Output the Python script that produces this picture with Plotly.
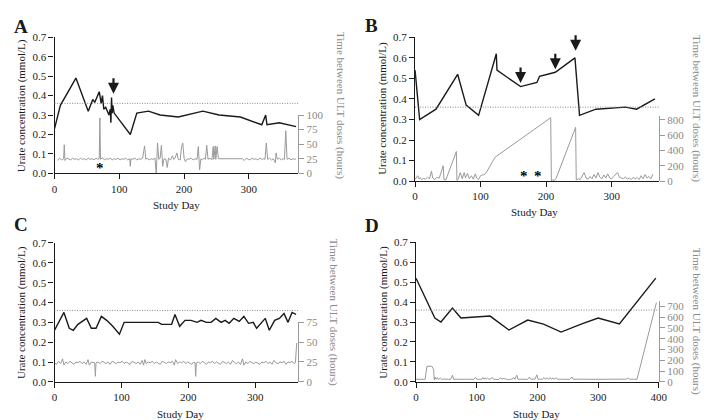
import plotly.graph_objects as go

W, H = 709, 420

# ---------------- DATA ----------------
# Panel A
a_urate_day = [0, 9, 33, 52, 59, 62, 69, 72, 74, 76, 79, 84, 86, 87, 88, 89, 90, 92, 117, 127, 145, 163, 191, 229, 254, 287, 320, 326, 328, 347, 373]
a_urate_val = [0.23, 0.35, 0.49, 0.32, 0.38, 0.365, 0.42, 0.36, 0.40, 0.33, 0.34, 0.30, 0.33, 0.26, 0.39, 0.31, 0.35, 0.31, 0.20, 0.31, 0.32, 0.30, 0.29, 0.32, 0.30, 0.29, 0.25, 0.30, 0.25, 0.26, 0.24]
A_GRAY = [(5, 22), (8, 26), (11, 23), (14, 25), (15, 49), (16, 22), (19, 26), (22, 24), (25, 23), (28, 26),
          (31, 24), (34, 25), (37, 23), (40, 26), (43, 24), (46, 25), (49, 23), (52, 26), (55, 24), (58, 25),
          (61, 23), (64, 26), (67, 24), (69, 25), (70, 95), (71, 24), (74, 27), (77, 23), (80, 25), (83, 24),
          (86, 26), (89, 23), (92, 25), (95, 24), (98, 26), (101, 23), (104, 25), (107, 24), (110, 26), (113, 23),
          (116, 25), (117, 12), (118, 25), (121, 24), (124, 26), (127, 23), (130, 25), (133, 24), (136, 26), (139, 47),
          (141, 24), (143, 26), (146, 23), (149, 25), (152, 24), (155, 26), (157, 0), (158, 25), (159, 52), (161, 24),
          (163, 26), (165, 48), (167, 12), (169, 25), (172, 24), (174, 10), (176, 26), (179, 23), (182, 30), (184, 24),
          (186, 26), (189, 35), (191, 24), (194, 23), (196, 45), (198, 52), (200, 26), (202, 20), (205, 25), (208, 24),
          (211, 26), (214, 23), (217, 25), (220, 24), (222, 46), (224, 6), (226, 25), (228, 23), (231, 26), (233, 24),
          (235, 48), (237, 24), (240, 26), (243, 23), (245, 46), (246, 24), (248, 47), (249, 24), (251, 46), (253, 25),
          (290, 25), (293, 22), (296, 26), (299, 24), (302, 23), (305, 26), (308, 24), (311, 25), (314, 23), (317, 26),
          (320, 24), (323, 25), (325, 24), (327, 52), (329, 24), (332, 26), (335, 23), (338, 25), (341, 18), (342, 35),
          (344, 24), (347, 26), (350, 23), (353, 25), (355, 24), (357, 73), (359, 24), (362, 26), (365, 23), (368, 25),
          (371, 24), (373, 25)]
a_gray_day = [d for d, _ in A_GRAY]
a_gray_hours = [h for _, h in A_GRAY]

# Panel B
b_urate_day = [0, 7, 32, 65, 78, 97, 124, 125, 161, 186, 190, 214, 244, 251, 276, 321, 338, 366]
b_urate_val = [0.54, 0.30, 0.35, 0.52, 0.37, 0.32, 0.62, 0.54, 0.46, 0.48, 0.51, 0.53, 0.60, 0.32, 0.35, 0.36, 0.35, 0.40]
B_GRAY = [(0, 20), (2, 40), (4, 70), (6, 30), (8, 45), (10, 20), (13, 35), (16, 25), (19, 50), (22, 30),
          (25, 130), (27, 40), (30, 20), (33, 45), (37, 40), (43, 200), (44, 20), (47, 15), (63, 385), (64, 10),
          (66, 30), (69, 110), (72, 30), (75, 110), (77, 40), (80, 100), (83, 30), (86, 70), (89, 25), (92, 95),
          (94, 40), (97, 20), (100, 70), (103, 80), (106, 85), (110, 130), (116, 220), (122, 310), (207, 825), (208, 0),
          (210, 20), (212, 5), (215, 30), (245, 700), (246, 15), (249, 30), (252, 20), (255, 60), (258, 110), (261, 40),
          (264, 25), (267, 60), (270, 30), (273, 85), (276, 40), (279, 110), (282, 50), (285, 30), (288, 80), (291, 40),
          (294, 95), (297, 40), (300, 30), (303, 60), (306, 80), (309, 110), (312, 50), (315, 40), (318, 30), (321, 55),
          (324, 25), (327, 40), (330, 20), (333, 50), (336, 30), (339, 45), (342, 20), (345, 70), (348, 30), (351, 85),
          (354, 40), (357, 60), (360, 30), (363, 90)]
b_gray_day = [d for d, _ in B_GRAY]
b_gray_hours = [h for _, h in B_GRAY]

# Panel C
c_urate_day = [0, 14, 22, 28, 35, 43, 48, 55, 62, 70, 78, 87, 97, 104, 155, 160, 175, 180, 187, 195, 204, 213, 219, 227, 234, 241, 249, 255, 261, 268, 276, 283, 290, 297, 302, 315, 321, 329, 336, 343, 349, 355, 361]
c_urate_val = [0.26, 0.35, 0.27, 0.26, 0.29, 0.31, 0.32, 0.27, 0.27, 0.33, 0.31, 0.28, 0.24, 0.30, 0.30, 0.29, 0.29, 0.34, 0.28, 0.31, 0.31, 0.30, 0.31, 0.30, 0.30, 0.32, 0.30, 0.31, 0.295, 0.32, 0.305, 0.33, 0.295, 0.30, 0.27, 0.32, 0.26, 0.31, 0.32, 0.345, 0.30, 0.35, 0.34]
C_GRAY = [(0, 24), (3, 22), (6, 26), (9, 23), (12, 29), (14, 21), (17, 25), (20, 23), (23, 26), (26, 24),
          (29, 22), (32, 25), (35, 24), (38, 26), (41, 23), (44, 25), (47, 22), (50, 28), (52, 21), (55, 25),
          (58, 24), (60, 24), (61, 7), (62, 24), (65, 25), (68, 23), (71, 26), (74, 24), (77, 23), (80, 25),
          (83, 22), (86, 26), (89, 24), (92, 23), (95, 25), (98, 24), (101, 26), (104, 23), (107, 25), (110, 24),
          (113, 22), (116, 26), (119, 24), (122, 23), (125, 25), (128, 22), (131, 27), (133, 21), (135, 28), (137, 23),
          (140, 25), (143, 24), (146, 26), (149, 23), (152, 25), (155, 24), (158, 22), (161, 26), (164, 24), (167, 23),
          (170, 25), (173, 24), (176, 26), (179, 21), (181, 28), (184, 23), (187, 25), (190, 24), (193, 26), (196, 23),
          (199, 25), (202, 24), (205, 22), (208, 25), (210, 24), (211, 7), (212, 24), (215, 25), (218, 23), (221, 26),
          (224, 24), (227, 22), (230, 25), (233, 24), (236, 26), (239, 23), (242, 25), (245, 24), (248, 22), (251, 26),
          (254, 24), (257, 23), (260, 25), (263, 22), (266, 27), (269, 24), (272, 23), (275, 25), (278, 22), (281, 29),
          (283, 21), (286, 25), (289, 23), (292, 26), (295, 24), (298, 23), (301, 25), (304, 24), (307, 22), (310, 25),
          (313, 24), (316, 26), (319, 23), (322, 25), (325, 22), (328, 27), (331, 24), (334, 23), (337, 25), (340, 24),
          (343, 26), (346, 22), (349, 25), (352, 24), (355, 26), (358, 23), (360, 24), (362, 49)]
c_gray_day = [d for d, _ in C_GRAY]
c_gray_hours = [h for _, h in C_GRAY]

# Panel D
d_urate_day = [0, 31, 41, 60, 74, 122, 153, 184, 210, 239, 272, 300, 335, 395]
d_urate_val = [0.52, 0.32, 0.30, 0.37, 0.32, 0.33, 0.26, 0.31, 0.29, 0.25, 0.29, 0.32, 0.29, 0.52]
D_GRAY = [(0, 24), (15, 24), (18, 145), (26, 145), (29, 115), (30, 20), (31, 45), (33, 24), (35, 40), (37, 22),
          (40, 35), (42, 24), (45, 26), (48, 22), (51, 25), (54, 24), (57, 24), (60, 62), (62, 24), (66, 25),
          (70, 23), (75, 26), (80, 24), (85, 25), (90, 24), (95, 23), (98, 42), (100, 24), (104, 25), (108, 23),
          (110, 40), (112, 24), (114, 38), (116, 24), (118, 35), (120, 24), (122, 26), (126, 40), (128, 24), (132, 25),
          (136, 23), (140, 38), (142, 24), (145, 35), (147, 24), (150, 26), (152, 20), (155, 24), (158, 25), (161, 40),
          (163, 24), (166, 62), (168, 24), (172, 25), (176, 23), (180, 25), (184, 24), (187, 45), (189, 24), (193, 25),
          (196, 24), (199, 65), (201, 24), (205, 25), (208, 24), (211, 40), (213, 24), (216, 38), (218, 24), (221, 40),
          (223, 24), (226, 38), (228, 24), (231, 38), (233, 24), (238, 25), (243, 23), (248, 25), (253, 24), (257, 45),
          (259, 24), (265, 25), (270, 23), (275, 24), (280, 25), (285, 24), (290, 23), (295, 25), (300, 24), (305, 25),
          (310, 23), (315, 24), (320, 25), (325, 24), (330, 23), (335, 25), (340, 24), (345, 25), (350, 35), (352, 24),
          (358, 25), (364, 24), (396, 735)]
d_gray_day = [d for d, _ in D_GRAY]
d_gray_hours = [h for _, h in D_GRAY]

threshold = 0.36
urate_ticks = [0.0, 0.1, 0.2, 0.3, 0.4, 0.5, 0.6, 0.7]

# ---------------- STYLE / LAYOUT ----------------
FONT = "Liberation Serif"
BLACK = "#1a1a1a"
GRAY_LINE = "#9a9a9a"
GRAY_TEXT = "#8a8a8a"

def fx(px):
    return px / W

def fy(py):
    return 1 - py / H

panels = [
    dict(letter="A", xd=(44.3, 292), yd=(164, 24), rtop=104, xmax=376, rmax=100, rdtick=25,
         ud=a_urate_day, uv=a_urate_val, gd=a_gray_day, gh=a_gray_hours, xticks=[0, 100, 200, 300],
         lt=(10, 94), rt=(335, 94), xt=(168, 197), let=(10, 13)),
    dict(letter="B", xd=(411, 659), yd=(172, 24), rtop=104.8, xmax=372, rmax=850, rdtick=200,
         ud=b_urate_day, uv=b_urate_val, gd=b_gray_day, gh=b_gray_hours, xticks=[0, 100, 200, 300],
         lt=(378, 97), rt=(698, 97), xt=(533, 204), let=(367, 12)),
    dict(letter="C", xd=(44.3, 292), yd=(378.7, 235.7), rtop=317.3, xmax=364, rmax=75, rdtick=25,
         ud=c_urate_day, uv=c_urate_val, gd=c_gray_day, gh=c_gray_hours, xticks=[0, 100, 200, 300],
         lt=(10, 307), rt=(328, 307), xt=(172, 412), let=(10, 217)),
    dict(letter="D", xd=(412, 659), yd=(378.7, 235), rtop=295.4, xmax=400, rmax=750, rdtick=100,
         ud=d_urate_day, uv=d_urate_val, gd=d_gray_day, gh=d_gray_hours, xticks=[0, 100, 200, 300, 400],
         lt=(379, 307), rt=(697, 316), xt=(535, 412), let=(367, 218)),
]

fig = go.Figure()
layout = dict(width=W, height=H, margin=dict(l=0, r=0, t=0, b=0),
              paper_bgcolor="white", plot_bgcolor="rgba(0,0,0,0)", showlegend=False,
              font=dict(family=FONT, size=11, color=BLACK))
annotations = []
shapes = []

for i, p in enumerate(panels):
    n = i + 1
    xs = "" if n == 1 else str(n)
    ys = "" if n == 1 else str(n)
    rs = str(n + 4)
    xname, yname, rname = "x" + xs, "y" + ys, "y" + rs

    layout["xaxis" + xs] = dict(domain=[fx(p["xd"][0]), fx(p["xd"][1])], anchor=yname,
                                range=[0, p["xmax"]], tickvals=p["xticks"], ticks="outside", ticklen=5,
                                tickwidth=1.2, tickcolor=BLACK, showline=True, linecolor=BLACK, linewidth=1.3,
                                showgrid=False, zeroline=False, tickfont=dict(size=11, color=BLACK, family=FONT))
    layout["yaxis" + ys] = dict(domain=[fy(p["yd"][0]), fy(p["yd"][1])], anchor=xname,
                                range=[0, 0.7], tickvals=urate_ticks, tickformat=".1f", ticks="outside",
                                ticklen=5, tickwidth=1.2, tickcolor=BLACK, showline=True, linecolor=BLACK,
                                linewidth=1.3, showgrid=False, zeroline=False,
                                tickfont=dict(size=11, color=BLACK, family=FONT))
    layout["yaxis" + rs] = dict(domain=[fy(p["yd"][0]), fy(p["rtop"])], anchor=xname, side="right",
                                range=[0, p["rmax"]], tick0=0, dtick=p["rdtick"], ticks="outside",
                                ticklen=5, tickwidth=1.2, tickcolor=GRAY_LINE, showline=True,
                                linecolor=GRAY_LINE, linewidth=1.3, showgrid=False, zeroline=False,
                                tickfont=dict(size=11, color=GRAY_TEXT, family=FONT))

    shapes.append(dict(type="line", xref=xname + " domain", x0=0, x1=1, yref=yname,
                       y0=threshold, y1=threshold, line=dict(color="#888888", width=1, dash="1px,1.5px")))

    fig.add_trace(go.Scatter(x=p["gd"], y=p["gh"], xaxis=xname, yaxis=rname, mode="lines",
                             line=dict(color=GRAY_LINE, width=1), hoverinfo="skip", cliponaxis=False))
    fig.add_trace(go.Scatter(x=p["ud"], y=p["uv"], xaxis=xname, yaxis=yname, mode="lines",
                             line=dict(color=BLACK, width=1.4), hoverinfo="skip"))

    annotations.append(dict(text="Urate concentration (mmol/L)", xref="paper", yref="paper",
                            x=fx(p["lt"][0]), y=fy(p["lt"][1]), textangle=-90, showarrow=False,
                            xanchor="center", yanchor="middle", font=dict(size=11, color=BLACK, family=FONT)))
    annotations.append(dict(text="Time between ULT doses (hours)", xref="paper", yref="paper",
                            x=fx(p["rt"][0]), y=fy(p["rt"][1]), textangle=90, showarrow=False,
                            xanchor="center", yanchor="middle", font=dict(size=11, color=GRAY_TEXT, family=FONT)))
    annotations.append(dict(text="Study Day", xref="paper", yref="paper",
                            x=fx(p["xt"][0]), y=fy(p["xt"][1]), showarrow=False,
                            xanchor="center", yanchor="middle", font=dict(size=11, color=BLACK, family=FONT)))
    annotations.append(dict(text="<b>" + p["letter"] + "</b>", xref="paper", yref="paper",
                            x=fx(p["let"][0]), y=fy(p["let"][1]), showarrow=False,
                            xanchor="center", yanchor="middle", font=dict(size=19, color=BLACK, family=FONT)))

arrow_marks = [("x", "y", 91, 0.41), ("x2", "y2", 161, 0.478), ("x2", "y2", 214, 0.545), ("x2", "y2", 245, 0.635)]
for xr, yr, xv, yv in arrow_marks:
    annotations.append(dict(x=xv, y=yv, xref=xr, yref=yr, text="", showarrow=True, ax=0, ay=-17,
                            arrowhead=2, arrowsize=1, arrowwidth=2.2, arrowcolor=BLACK))

star_marks = [("x", "y", 70, 0.025), ("x2", "y2", 167, 0.025), ("x2", "y2", 188, 0.025)]
for xr, yr, xv, yv in star_marks:
    annotations.append(dict(x=xv, y=yv, xref=xr, yref=yr, text="<b>*</b>", showarrow=False,
                            xanchor="center", yanchor="middle", font=dict(size=15, color="#000000", family=FONT)))

layout["annotations"] = annotations
layout["shapes"] = shapes
fig.update_layout(**layout)

fig.write_html("out.html")
